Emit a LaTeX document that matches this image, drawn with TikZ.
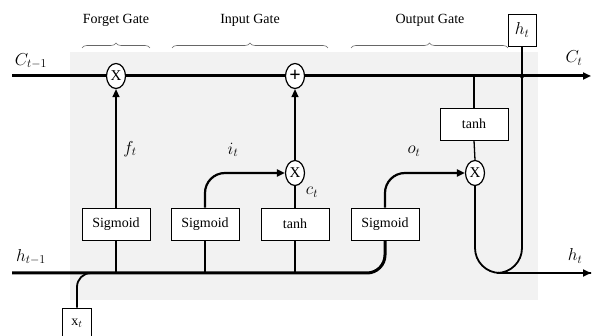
\documentclass[tikz,border=0pt]{standalone}
\usepackage{fontspec}
\setmainfont{Liberation Serif}
\usetikzlibrary{arrows.meta,shapes.geometric,decorations.pathreplacing}
\tikzset{
  boxnode/.style={draw, fill=white, line width=0.8pt, minimum width=68pt, minimum height=32pt, inner sep=0pt, font=\fontsize{14}{14}\selectfont},
  opnode/.style={draw, fill=white, ellipse, line width=1.2pt, minimum width=19pt, minimum height=25pt, inner sep=0pt, font=\fontsize{15}{15}\selectfont},
  mainline/.style={line width=3pt},
  conn/.style={line width=1.3pt},
  curvconn/.style={line width=2.2pt},
  tip/.style={-{Triangle[length=8pt,width=7pt]}},
  gatelabel/.style={font=\fontsize{14}{14}\selectfont},
  mlabel/.style={font=\fontsize{18}{18}\selectfont},
  gbrace/.style={decorate, decoration={brace, amplitude=5pt}, line width=0.6pt, draw=black!60},
}
\begin{document}
\begin{tikzpicture}[x=1pt,y=-1pt]
\useasboundingbox (0,0) rectangle (595,336);
% background
\fill[black!5] (70,52) rectangle (538,300);
% coordinates
\coordinate (cl) at (12,76);
\coordinate (cr) at (591,76);
\coordinate (hl) at (12,273);
\coordinate (hr) at (591,273);
% nodes
\node[opnode] (fx) at (116,76) {X};
\node[opnode, font=\fontsize{20}{20}\bfseries] (plus) at (295,76) {+};
\node[opnode] (ix) at (295,173) {X};
\node[opnode] (ox) at (475,173) {X};
\node[boxnode] (sg1) at (116,224) {Sigmoid};
\node[boxnode] (sg2) at (205,224) {Sigmoid};
\node[boxnode] (th1) at (295,224) {tanh};
\node[boxnode] (sg3) at (385,224) {Sigmoid};
\node[boxnode] (th2) at (474,124) {tanh};
\node[draw, fill=white, line width=0.8pt, minimum width=28pt, minimum height=32pt, inner sep=0pt, font=\fontsize{17}{17}\selectfont] (ht) at (522,30) {$h_t$};
\node[draw, fill=white, line width=0.8pt, minimum width=29pt, minimum height=30pt, inner sep=0pt, font=\fontsize{14}{14}\selectfont] (xt) at (77,323) {x$_t$};
% cell state line
\draw[mainline] (cl) -- (fx.west);
\draw[mainline] (fx.east) -- (plus.west);
\draw[mainline, tip] (plus.east) -- (cr);
% hidden line
\draw[mainline, rounded corners=18pt] (hl) -- (sg3.south |- hl) -- (sg3.south);
% x_t into hidden line
\draw[conn, line width=1.8pt, rounded corners=14pt] (xt.north) -- (xt.north |- hl) -- ++(16,0);
% forget gate
\draw[conn] (sg1.south |- hl) -- (sg1.south);
\draw[conn, tip] (sg1.north) -- (fx.south);
% input gate
\draw[conn] (sg2.south |- hl) -- (sg2.south);
\draw[curvconn, tip, rounded corners=20pt] (sg2.north) -- (sg2.north |- ix) -- (ix.west);
\draw[conn] (th1.south |- hl) -- (th1.south);
\draw[conn] (th1.north) -- (ix.south);
\draw[conn, tip] (ix.north) -- (plus.south);
% output gate
\draw[curvconn, tip, rounded corners=20pt] (sg3.north) -- (sg3.north |- ox) -- (ox.west);
\draw[conn] (th2.north |- cl) -- (th2.north);
\draw[conn] (th2.south) -- (ox.north);
\draw[conn, line width=1.8pt, rounded corners=25pt] (ox.south) -- (ox.south |- hl) -- (hr);
\draw[conn, line width=1.8pt, tip] (555,273) -- (hr);
\draw[conn, line width=1.8pt, rounded corners=25pt] (ht.south) -- (ht.south |- hl) -- ++(-25,0);
\fill (ht.south |- cl) circle (2.2pt);
% braces
\draw[gbrace] (82,48) -- (150,48);
\draw[gbrace] (172,48) -- (328,48);
\draw[gbrace] (351,48) -- (508,48);
\node[gatelabel] (lfg) at (116,20) {Forget Gate};
\node[gatelabel] (lig) at (250,20) {Input Gate};
\node[gatelabel] (log) at (430,20) {Output Gate};
% math labels
\node[mlabel] (lcm) at (31,61) {$C_{t-1}$};
\node[mlabel] (lct) at (574,58) {$C_t$};
\node[mlabel] (lhm) at (31,257) {$h_{t-1}$};
\node[mlabel] (lht) at (575,256) {$h_t$};
\node[mlabel] (lf) at (130,149) {$f_t$};
\node[mlabel] (li) at (233,150) {$i_t$};
\node[mlabel] (lc) at (312,192) {$c_t$};
\node[mlabel] (lo) at (414,151) {$o_t$};
\end{tikzpicture}
\end{document}
